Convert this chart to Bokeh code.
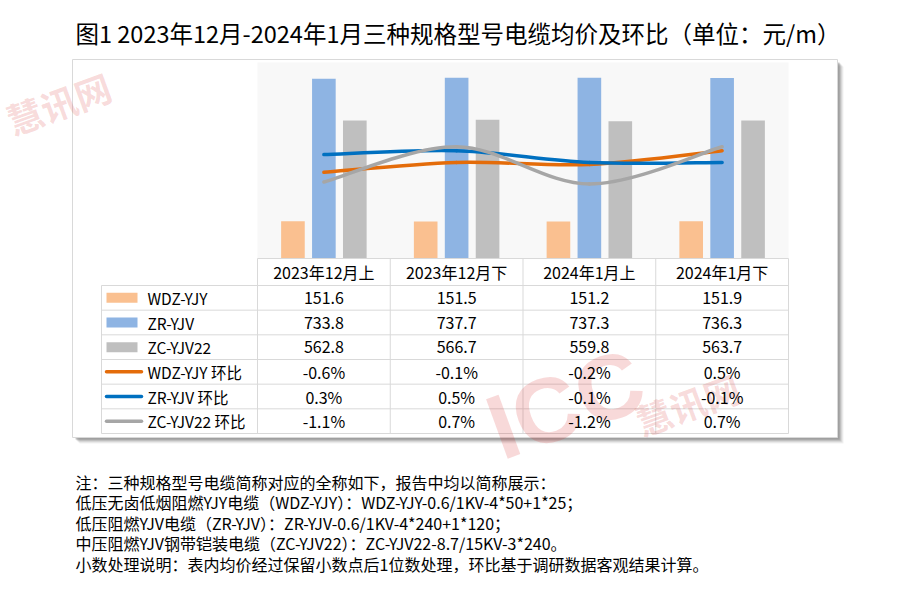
from bokeh.plotting import figure
from bokeh.models import Range1d, ColumnDataSource
from bokeh.core.properties import value
from bokeh.transform import dodge
from bokeh.embed import file_html
from bokeh.resources import INLINE

# ---------------- data ----------------
periods = ["2023年12月上", "2023年12月下", "2024年1月上", "2024年1月下"]
bar_names = ["WDZ-YJY", "ZR-YJV", "ZC-YJV22"]
line_names = ["WDZ-YJY 环比", "ZR-YJV 环比", "ZC-YJV22 环比"]
wdz_price = [151.6, 151.5, 151.2, 151.9]
zr_price = [733.8, 737.7, 737.3, 736.3]
zc_price = [562.8, 566.7, 559.8, 563.7]
wdz_ring = [-0.6, -0.1, -0.2, 0.5]
zr_ring = [0.3, 0.5, -0.1, -0.1]
zc_ring = [-1.1, 0.7, -1.2, 0.7]
price_lo, price_hi = 0, 800
ring_lo, ring_hi = -5, 5

title = "图1 2023年12月-2024年1月三种规格型号电缆均价及环比（单位：元/m）"
notes = [
    "注：三种规格型号电缆简称对应的全称如下，报告中均以简称展示：",
    "低压无卤低烟阻燃YJY电缆（WDZ-YJY）：WDZ-YJY-0.6/1KV-4*50+1*25；",
    "低压阻燃YJV电缆（ZR-YJV）：ZR-YJV-0.6/1KV-4*240+1*120；",
    "中压阻燃YJV钢带铠装电缆（ZC-YJV22）：ZC-YJV22-8.7/15KV-3*240。",
    "小数处理说明：表内均价经过保留小数点后1位数处理，环比基于调研数据客观结果计算。",
]
watermark_a, watermark_b = "ICC", "慧讯网"

# ---------------- layout / style ----------------
W, H = 900, 603
PA_L, PA_R, PA_T, PA_B = 257, 788, 62, 258
TL, TB = 101, 433
BOX = (72, 837, 59, 437)
bar_colors = ["#FAC090", "#8EB4E3", "#BFBFBF"]
line_colors = ["#E46C0A", "#0070C0", "#A6A6A6"]
grid_color = "#D9D9D9"
FONT = value("Noto Sans CJK SC")

n = len(periods)
cw = (PA_R - PA_L) / n

p = figure(width=W, height=H, x_range=Range1d(0, W), y_range=Range1d(H, 0),
           x_axis_type=None, y_axis_type=None, output_backend="svg",
           toolbar_location=None, min_border=0, outline_line_color=None)
p.grid.visible = False
p.background_fill_color = "white"
p.border_fill_color = "white"

# extra ranges mapping data into the plot area
p.extra_x_ranges["cat"] = Range1d((0 - PA_L) / cw - 0.5, (W - PA_L) / cw - 0.5)
def yr(lo, hi):
    upp = (hi - lo) / (PA_B - PA_T)
    return Range1d(lo - (H - PA_B) * upp, lo + PA_B * upp)
p.extra_y_ranges["price"] = yr(price_lo, price_hi)
p.extra_y_ranges["ring"] = yr(ring_lo, ring_hi)

# box with shadow
x0, x1, y0, y1 = BOX
for d, a in [(6, 0.10), (5, 0.15), (4, 0.22), (3, 0.3), (2, 0.4)]:
    p.quad(left=x0 + d + 1, right=x1 + d, top=y0 + d + 1, bottom=y1 + d,
           fill_color="#808080", fill_alpha=a, line_color=None)
p.quad(left=x0, right=x1, top=y0, bottom=y1, fill_color="white",
       line_color=grid_color, line_width=1)

# plot area background
p.quad(left=-0.5, right=n - 0.5, bottom=price_lo, top=price_hi,
       x_range_name="cat", y_range_name="price",
       fill_color="#F8F8F8", line_color=None)

# bars
src = ColumnDataSource(dict(idx=list(range(n)), wdz=wdz_price, zr=zr_price, zc=zc_price))
offs = [-0.233, 0.0, 0.233]
for col, off, c in zip(["wdz", "zr", "zc"], offs, bar_colors):
    p.vbar(x=dodge("idx", off), top=col, bottom=price_lo, width=0.178, source=src,
           x_range_name="cat", y_range_name="price", fill_color=c, line_color=None)

# smooth lines (Catmull-Rom converted to cubic Bezier segments)
def bez(ys):
    xs = list(range(len(ys)))
    d = dict(x0=[], y0=[], x1=[], y1=[], cx0=[], cy0=[], cx1=[], cy1=[])
    for i in range(len(ys) - 1):
        im, ip2 = max(i - 1, 0), min(i + 2, len(ys) - 1)
        d["x0"].append(xs[i]); d["y0"].append(ys[i])
        d["x1"].append(xs[i + 1]); d["y1"].append(ys[i + 1])
        d["cx0"].append(xs[i] + (xs[i + 1] - xs[im]) / 6)
        d["cy0"].append(ys[i] + (ys[i + 1] - ys[im]) / 6)
        d["cx1"].append(xs[i + 1] - (xs[ip2] - xs[i]) / 6)
        d["cy1"].append(ys[i + 1] - (ys[ip2] - ys[i]) / 6)
    return ColumnDataSource(d)

for ys, c in zip([wdz_ring, zr_ring, zc_ring], line_colors):
    p.bezier(x0="x0", y0="y0", x1="x1", y1="y1", cx0="cx0", cy0="cy0", cx1="cx1", cy1="cy1",
             source=bez(ys), x_range_name="cat", y_range_name="ring",
             line_color=c, line_width=3.5, line_cap="round")

# table grid
col_edges = [PA_L + i * cw for i in range(n + 1)]
row_top = 285
rh = (TB - row_top) / 6
row_edges = [row_top + k * rh for k in range(7)]
p.segment(x0=col_edges, x1=col_edges, y0=[PA_B] * len(col_edges), y1=[TB] * len(col_edges),
          line_color=grid_color, line_width=1)
p.segment(x0=[TL], x1=[TL], y0=[row_top], y1=[TB], line_color=grid_color, line_width=1)
p.segment(x0=[PA_L], x1=[PA_R], y0=[PA_B], y1=[PA_B], line_color=grid_color, line_width=1)
p.segment(x0=[TL] * 7, x1=[PA_R] * 7, y0=row_edges, y1=row_edges, line_color=grid_color, line_width=1)

col_centers = [PA_L + (i + 0.5) * cw for i in range(n)]
row_centers = [row_top + (k + 0.5) * rh for k in range(6)]

# faint watermarks (drawn beneath the table text)
ang = 0.35
wm = dict(text_color="#D42020", text_alpha=0.17, angle=ang, text_baseline="bottom")
p.text(x=[508], y=[478], text=[watermark_a], text_font=value("Liberation Sans"),
       text_font_style="bold", text_font_size="92px", text_align="left", **wm)
p.text(x=[645, 16], y=[446, 145], text=[watermark_b] * 2, text_font=FONT,
       text_font_style="bold", text_font_size="36px", text_align="left", **wm)

# header texts
p.text(x=col_centers, y=[(PA_B + row_top) / 2] * n, text=periods, text_font=FONT,
       text_font_size="16px", text_align="center", text_baseline="middle", text_color="black")

# values
rows = [wdz_price, zr_price, zc_price, wdz_ring, zr_ring, zc_ring]
vx, vy, vt = [], [], []
for k, r in enumerate(rows):
    for i, v in enumerate(r):
        vx.append(col_centers[i]); vy.append(row_centers[k])
        vt.append(f"{v:.1f}" if k < 3 else f"{v:.1f}%")
p.text(x=vx, y=vy, text=vt, text_font=FONT, text_font_size="16px",
       text_align="center", text_baseline="middle", text_color="black")

# legend keys and labels
for k in range(3):
    p.quad(left=106, right=137, top=row_centers[k] - 5, bottom=row_centers[k] + 5,
           fill_color=bar_colors[k], line_color=None)
    p.segment(x0=[106], x1=[141], y0=[row_centers[k + 3]], y1=[row_centers[k + 3]],
              line_color=line_colors[k], line_width=3.5, line_cap="round")
p.text(x=[147] * 6, y=row_centers, text=bar_names + line_names, text_font=FONT,
       text_font_size="15.5px", text_align="left", text_baseline="middle", text_color="black")

# title
p.text(x=[75], y=[32], text=[title], text_font=FONT, text_font_size="23.5px",
       text_align="left", text_baseline="middle", text_color="black")

# notes
p.text(x=[75] * len(notes), y=[481 + 20.5 * i for i in range(len(notes))], text=notes,
       text_font=FONT, text_font_size="16px", text_align="left", text_baseline="middle",
       text_color="black")

open("out.html", "w").write(file_html(p, INLINE))
